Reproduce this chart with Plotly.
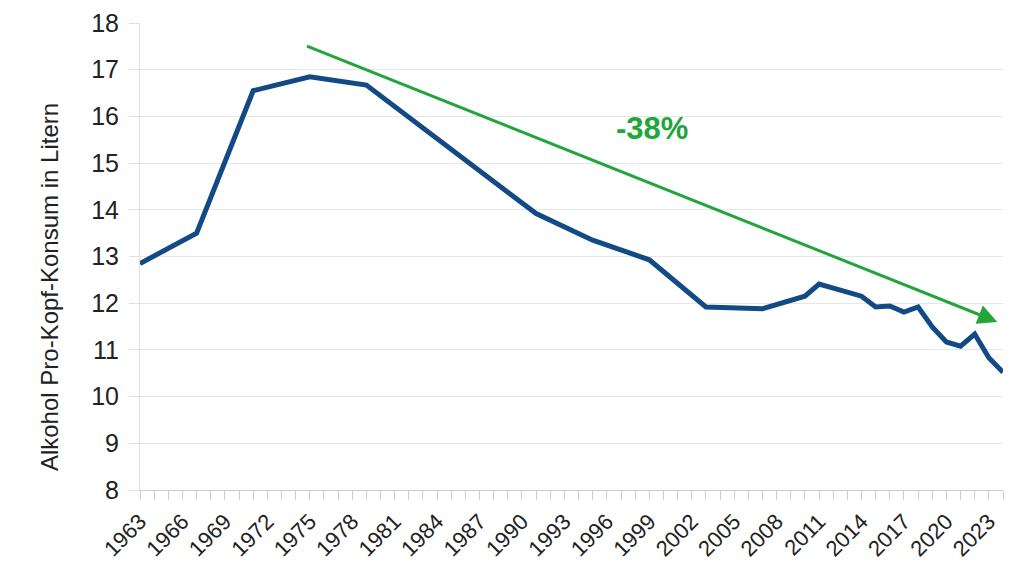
import plotly.graph_objects as go

# Alkohol Pro-Kopf-Konsum (Liter reiner Alkohol)
years = [1963, 1967, 1971, 1975, 1979, 1991, 1995, 1999, 2003, 2007, 2010, 2011,
         2014, 2015, 2016, 2017, 2018, 2019, 2020, 2021, 2022, 2023, 2024]
liters = [12.85, 13.5, 16.55, 16.85, 16.67, 13.92, 13.35, 12.93, 11.92, 11.88, 12.15, 12.41,
          12.15, 11.92, 11.94, 11.81, 11.92, 11.49, 11.17, 11.08, 11.34, 10.83, 10.52]

tick_years = list(range(1963, 2024, 3))
y_ticks = list(range(8, 19))

trend_start = (1974.7, 17.52)
trend_end = (2023.6, 11.6)
trend_label = "-38%"
y_title = "Alkohol Pro-Kopf-Konsum in Litern"

blue = "#124a86"
green = "#23a53b"
font = "Liberation Sans, Arial, sans-serif"

fig = go.Figure()
fig.add_scatter(x=years, y=liters, mode="lines",
                line=dict(color=blue, width=5), showlegend=False)

# trend arrow
fig.add_annotation(x=trend_end[0], y=trend_end[1], ax=trend_start[0], ay=trend_start[1],
                   xref="x", yref="y", axref="x", ayref="y", text="",
                   showarrow=True, arrowhead=2, arrowsize=1.3, arrowwidth=3,
                   arrowcolor=green)
fig.add_annotation(x=1999.2, y=15.75, text="<b>" + trend_label + "</b>", showarrow=False,
                   font=dict(color=green, size=31, family=font))

# axis title sits a bit below the middle in the original, so place it by hand
fig.add_annotation(x=-0.104, y=0.435, xref="paper", yref="paper", text=y_title,
                   textangle=-90, showarrow=False, xanchor="center", yanchor="middle",
                   font=dict(size=24, family=font, color="#222222"))

# page has an 8px body margin, so the figure is shrunk by that much
fig.update_layout(
    width=1016, height=568,
    margin=dict(l=132, r=21, t=15, b=86),
    paper_bgcolor="white", plot_bgcolor="white",
    font=dict(family=font, color="#222222"),
    xaxis=dict(range=[1963, 2024], tickvals=tick_years, tickangle=-45, automargin=False,
               tickfont=dict(size=22), ticks="outside", ticklen=9, tickcolor="#d0d0d0",
               minor=dict(dtick=1, tick0=1963, ticks="outside", ticklen=9, tickcolor="#d0d0d0"),
               showgrid=False, showline=True, linecolor="#d0d0d0", zeroline=False),
    yaxis=dict(range=[8, 18], tickvals=y_ticks, tickfont=dict(size=25), automargin=False,
               ticks="outside", ticklen=10, tickcolor="#e0e0e0", ticklabelstandoff=5,
               showgrid=True, gridcolor="#e6e6e6", showline=True, linecolor="#e0e0e0",
               zeroline=False),
)

fig.write_html("out.html")
